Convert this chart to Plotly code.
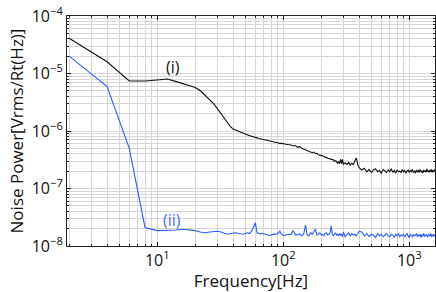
import math
import plotly.graph_objects as go

# Frequency grid [Hz]
freq_low = list(range(2, 101, 2))      # 50 points
freq_mid = list(range(105, 301, 5))    # 40 points
freq_hi1 = list(range(310, 401, 10))   # 10 points
freq_hi2 = list(range(420, 1601, 20))  # 60 points
freq = freq_low + freq_mid + freq_hi1 + freq_hi2

# Series (i) – black
black_low = [
    4.1e-5, 1.6e-5, 7.4e-6, 7.4e-6, 7.7e-6, 8.0e-6, 7.3e-6, 6.6e-6, 6.2e-6, 5.7e-6,
    5.0e-6, 4.2e-6, 3.5e-6, 3.0e-6, 2.45e-6, 2.0e-6, 1.65e-6, 1.4e-6, 1.2e-6, 1.08e-6,
    1.03e-6, 1.0e-6, 9.6e-7, 9.3e-7, 8.9e-7, 8.5e-7, 8.3e-7, 8.1e-7, 8.0e-7, 7.9e-7,
    7.6e-7, 7.4e-7, 7.3e-7, 7.1e-7, 7.0e-7, 6.9e-7, 6.85e-7, 6.8e-7, 6.7e-7, 6.6e-7,
    6.6e-7, 6.45e-7, 6.35e-7, 6.3e-7, 6.25e-7, 6.2e-7, 6.05e-7, 6.15e-7, 6.0e-7, 6.05e-7,
]
black_mid = [
    5.9e-7, 5.85e-7, 5.7e-7, 5.5e-7, 5.6e-7, 5.2e-7, 5.35e-7, 5.0e-7, 4.85e-7, 4.75e-7,
    4.6e-7, 4.5e-7, 4.45e-7, 4.2e-7, 4.3e-7, 4.05e-7, 4.1e-7, 3.85e-7, 3.8e-7, 3.75e-7,
    3.6e-7, 3.65e-7, 3.45e-7, 3.5e-7, 3.35e-7, 3.3e-7, 3.25e-7, 3.2e-7, 3.1e-7, 3.15e-7,
    2.95e-7, 3.05e-7, 2.9e-7, 2.75e-7, 2.95e-7, 2.7e-7, 3.2e-7, 2.7e-7, 3.2e-7, 2.65e-7,
]
black_hi1 = [2.8e-7, 2.6e-7, 2.85e-7, 2.55e-7, 2.75e-7, 2.6e-7, 3.0e-7, 3.4e-7, 2.6e-7, 2.3e-7]
black_hi2 = [
    2.1e-7, 2.25e-7, 1.95e-7, 2.15e-7, 1.9e-7, 2.1e-7, 2.2e-7, 1.95e-7, 2.05e-7, 1.85e-7,
    2.15e-7, 2.0e-7, 1.9e-7, 2.1e-7, 1.95e-7, 2.2e-7, 1.9e-7, 2.05e-7, 1.85e-7, 2.1e-7,
    1.95e-7, 2.0e-7, 1.9e-7, 2.15e-7, 1.95e-7, 2.05e-7, 1.85e-7, 2.0e-7, 2.1e-7, 1.9e-7,
    2.05e-7, 1.95e-7, 2.15e-7, 1.9e-7, 2.0e-7, 1.85e-7, 2.1e-7, 1.95e-7, 2.05e-7, 1.9e-7,
    2.15e-7, 1.95e-7, 2.0e-7, 1.85e-7, 2.1e-7, 1.95e-7, 2.05e-7, 1.9e-7, 2.2e-7, 1.95e-7,
    2.05e-7, 1.9e-7, 2.1e-7, 1.95e-7, 2.15e-7, 1.9e-7, 2.05e-7, 2.0e-7, 2.1e-7, 2.05e-7,
]
black = black_low + black_mid + black_hi1 + black_hi2

# Series (ii) – blue
blue_low = [
    2.0e-5, 5.9e-6, 5.0e-7, 2.1e-8, 1.85e-8, 1.85e-8, 1.9e-8, 1.95e-8, 1.9e-8, 1.85e-8,
    1.75e-8, 1.7e-8, 1.75e-8, 1.8e-8, 1.8e-8, 1.75e-8, 1.65e-8, 1.6e-8, 1.65e-8, 1.68e-8,
    1.7e-8, 1.65e-8, 1.6e-8, 1.6e-8, 1.65e-8, 1.7e-8, 1.65e-8, 1.8e-8, 2.1e-8, 2.55e-8,
    1.7e-8, 1.62e-8, 1.6e-8, 1.66e-8, 1.62e-8, 1.6e-8, 1.56e-8, 1.55e-8, 1.52e-8, 1.55e-8,
    1.6e-8, 1.62e-8, 1.58e-8, 1.6e-8, 1.65e-8, 1.7e-8, 1.8e-8, 1.65e-8, 1.55e-8, 1.52e-8,
]
blue_mid = [
    1.55e-8, 1.6e-8, 1.58e-8, 1.85e-8, 1.55e-8, 1.6e-8, 1.62e-8, 1.5e-8, 1.6e-8, 2.3e-8,
    1.55e-8, 1.5e-8, 1.7e-8, 1.6e-8, 1.75e-8, 1.95e-8, 1.55e-8, 1.6e-8, 1.7e-8, 1.55e-8,
    1.6e-8, 1.5e-8, 1.65e-8, 1.7e-8, 1.55e-8, 1.6e-8, 1.7e-8, 2.25e-8, 1.6e-8, 1.5e-8,
    1.65e-8, 1.7e-8, 1.55e-8, 1.6e-8, 1.5e-8, 1.65e-8, 1.55e-8, 1.6e-8, 1.45e-8, 1.75e-8,
]
blue_hi1 = [1.45e-8, 1.6e-8, 1.7e-8, 1.5e-8, 1.65e-8, 1.55e-8, 1.6e-8, 1.5e-8, 1.65e-8, 1.8e-8]
blue_hi2 = [
    1.75e-8, 1.5e-8, 1.65e-8, 1.45e-8, 1.6e-8, 1.55e-8, 1.4e-8, 1.65e-8, 1.5e-8, 1.6e-8,
    1.45e-8, 1.55e-8, 1.65e-8, 1.5e-8, 1.45e-8, 1.6e-8, 1.55e-8, 1.4e-8, 1.6e-8, 1.5e-8,
    1.65e-8, 1.45e-8, 1.55e-8, 1.5e-8, 1.6e-8, 1.45e-8, 1.55e-8, 1.65e-8, 1.5e-8, 1.4e-8,
    1.6e-8, 1.55e-8, 1.45e-8, 1.6e-8, 1.5e-8, 1.55e-8, 1.65e-8, 1.45e-8, 1.55e-8, 1.5e-8,
    1.6e-8, 1.4e-8, 1.55e-8, 1.5e-8, 1.65e-8, 1.45e-8, 1.55e-8, 1.6e-8, 1.5e-8, 1.45e-8,
    1.6e-8, 1.55e-8, 1.5e-8, 1.65e-8, 1.45e-8, 1.55e-8, 1.5e-8, 1.6e-8, 1.5e-8, 1.55e-8,
]
blue = blue_low + blue_mid + blue_hi1 + blue_hi2

series_labels = ["(i)", "(ii)"]
label_pos = [(13.3, 1.3e-5), (13.1, 2.85e-8)]

x_major_exp = [1, 2, 3]
y_major_exp = [-8, -7, -6, -5, -4]
x_tickvals = [10 ** e for e in x_major_exp]
x_ticktext = [f"10<sup>{e}</sup>" for e in x_major_exp]
y_tickvals = [10.0 ** e for e in y_major_exp]
y_ticktext = [f"10<sup>\u2212{-e}</sup>" for e in y_major_exp]

x_minor = [m * 10 ** e for e in range(0, 4) for m in range(2, 10)]
y_minor = [m * 10.0 ** e for e in range(-8, -4) for m in range(2, 10)]

FONT = "Open Sans"
GRID = "#d6d6d6"
BLUE = "#2f5bff"
INK = "#111111"

fig = go.Figure()
fig.add_trace(go.Scatter(x=freq, y=black, mode="lines",
                         line=dict(color=INK, width=1.1), name=series_labels[0]))
fig.add_trace(go.Scatter(x=freq, y=blue, mode="lines",
                         line=dict(color=BLUE, width=1.1), name=series_labels[1]))

# annotation positions on log axes are given in log10 units
fig.add_annotation(x=math.log10(label_pos[0][0]), y=math.log10(label_pos[0][1]),
                   xref="x", yref="y", text=series_labels[0], showarrow=False,
                   font=dict(family=FONT, size=16, color=INK))
fig.add_annotation(x=math.log10(label_pos[1][0]), y=math.log10(label_pos[1][1]),
                   xref="x", yref="y", text=series_labels[1], showarrow=False,
                   font=dict(family=FONT, size=16, color="#4a6cf2"))

axis_common = dict(
    type="log", showline=True, linecolor="#222222", linewidth=1, mirror="ticks",
    ticks="inside", ticklen=4, tickcolor="#222222",
    showgrid=True, gridcolor=GRID, gridwidth=1, zeroline=False,
    tickmode="array",
    tickfont=dict(family=FONT, size=16, color=INK),
)

fig.update_xaxes(
    **axis_common,
    range=[0.284, 3.204], tickvals=x_tickvals, ticktext=x_ticktext,
    minor=dict(tickvals=x_minor, showgrid=True, gridcolor=GRID, ticks="inside",
               ticklen=2, tickcolor="#222222"),
    title=dict(text="Frequency[Hz]", font=dict(family=FONT, size=17, color=INK),
               standoff=5),
)
fig.update_yaxes(
    **axis_common,
    range=[-8, -4], tickvals=y_tickvals, ticktext=y_ticktext,
    minor=dict(tickvals=y_minor, showgrid=True, gridcolor=GRID, ticks="inside",
               ticklen=2, tickcolor="#222222"),
    title=dict(text="Noise Power[Vrms/Rt(Hz)]",
               font=dict(family=FONT, size=17, color=INK), standoff=3),
)

fig.update_layout(
    width=436, height=292,
    margin=dict(l=67, r=1, t=16, b=46, autoexpand=False),
    paper_bgcolor="white", plot_bgcolor="white",
    showlegend=False,
)

fig.write_html("out.html", config={"displayModeBar": False},
               post_script="document.body.style.margin='0';document.body.style.overflow='hidden';")
